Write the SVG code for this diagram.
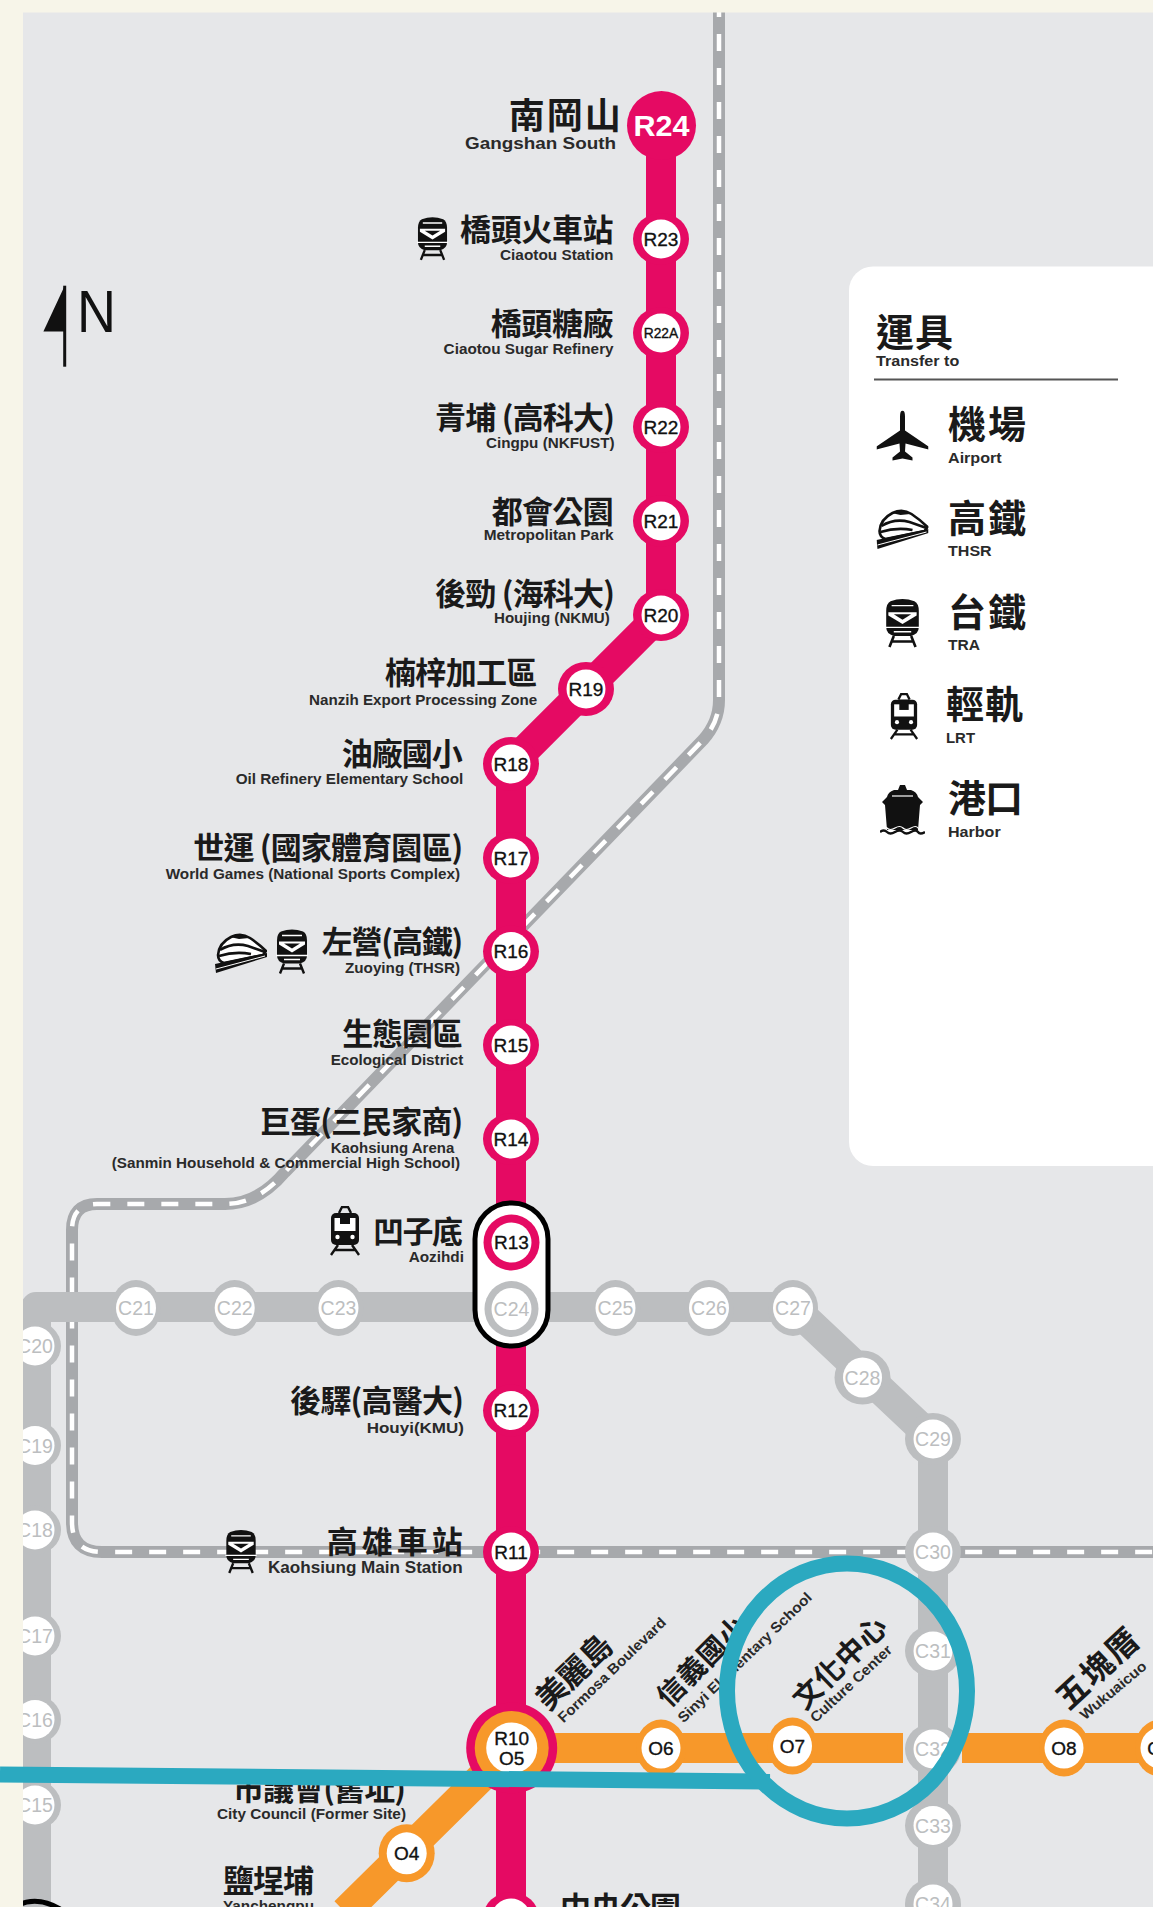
<svg xmlns="http://www.w3.org/2000/svg" width="1153" height="1907" viewBox="0 0 1153 1907">
<style>
.zh{font-family:"Noto Sans CJK TC","Noto Sans CJK SC",sans-serif;font-weight:700;font-size:31px;fill:#1a1a1a}
.en{font-family:"Liberation Sans",Arial,sans-serif;font-weight:700;font-size:14.5px;fill:#2a2a2a}
.rl,.ol{font-family:"Liberation Sans",Arial,sans-serif;font-size:19px;fill:#111;stroke:#111;stroke-width:.35;text-anchor:middle}
.cl{font-family:"Liberation Sans",Arial,sans-serif;font-size:19.5px;fill:#bcbec0;text-anchor:middle}
.ro{fill:#e50a63}.oo{fill:#f7982a}.co{fill:#bcbec0}.w{fill:#fff}
.ic{fill:#111}
</style>
<defs>
<symbol id="i-tra" viewBox="0 0 32 46">
<path class="ic" d="M5 3Q16-1 27 3Q31 5 31 12V27Q31 33 24 35H8Q1 33 1 27V12Q1 5 5 3Z"/>
<path fill="#fff" d="M3 13H29V16L16 24L3 16Z"/><path class="ic" d="M8 15H24L16 20Z"/>
<path d="M6 7H26M0 27H32M8 31H24" stroke="#fff" stroke-width="1.3" fill="none"/>
<path d="M8 35L4 45M24 35L28 45M6 40H26" stroke="#111" stroke-width="2.4" fill="none"/>
</symbol>
<symbol id="i-lrt" viewBox="0 0 32 50">
<rect class="ic" x="2" y="7" width="28" height="32" rx="5"/>
<rect fill="#fff" x="5.5" y="12" width="21" height="13"/><rect class="ic" x="11" y="7" width="10" height="11"/>
<circle fill="#fff" cx="8.5" cy="31" r="2.2"/><circle fill="#fff" cx="23.5" cy="31" r="2.2"/>
<path d="M10 7L13 1H19L22 7M9 39L2 49M23 39L30 49M6 44H26" stroke="#111" stroke-width="2.4" fill="none"/>
</symbol>
<symbol id="i-plane" viewBox="0 0 52 51">
<path class="ic" d="M26 0Q28.5 0 28.5 6V20L52 36V39L29 33L28.5 41L36 47V50L26 48L16 50V47L23.5 41L23 33L0 39V36L23.5 20V6Q23.5 0 26 0Z"/>
</symbol>
<symbol id="i-ship" viewBox="0 0 45 51">
<path class="ic" d="M20 0H25L27 5H31Q37 7 38 12L43 17L40 20L38 45H7L5 20L2 17L7 12Q8 7 14 5H18Z"/>
<path d="M12 11H33" stroke="#fff" stroke-width="1.2" fill="none"/>
<path d="M0 43q4-3 7 0t8 0t8 0t8 0t7 0t7 0" stroke="#fff" stroke-width="1.2" fill="none"/>
<path d="M0 47q4-3 7 0t8 0t8 0t8 0t7 0t7 0" stroke="#111" stroke-width="2.4" fill="none"/>
</symbol>
<symbol id="i-thsr" viewBox="0 0 52 42">
<path fill="#fff" stroke="#111" stroke-width="2.6" d="M3 24Q4 12 16 6Q26 1 35 7Q44 13 51 20L48 24L9 32Q3 30 3 24Z"/>
<path fill="none" stroke="#111" stroke-width="2.6" d="M5 19Q18 11 33 15L50 21M4 25Q20 20 36 23"/>
<path class="ic" d="M15 6Q26 1 34 7L24 8Z"/>
<path class="ic" d="M0 33L52 22V26L1 42Z"/><path d="M1 38L50 25" stroke="#fff" stroke-width="1"/>
</symbol>
</defs>

<rect id="background" width="1153" height="1907" fill="#e6e7e9"/>
<rect id="legend-panel" x="849" y="266.500" width="340" height="899.500" rx="24" fill="#fff"/>

<g id="connectors" fill="none">
<g id="line-tra">
<path id="tra-band" d="M719 0V700Q719 722 703 740L285 1172Q258 1204 225 1204H97Q72 1204 72 1230V1522Q72 1552 102 1552H1153" stroke="#a7a9ac" stroke-width="12"/>
<path d="M719 0V700Q719 722 703 740L285 1172Q258 1204 225 1204H97Q72 1204 72 1230V1522Q72 1552 102 1552H1153" stroke="#fff" stroke-width="4.5" stroke-dasharray="17 17"/>
</g>
<path id="line-c" d="M793 1307L933 1439V1907M36 1907V1307H793" stroke="#bcbec0" stroke-width="30" stroke-linejoin="round"/>
<path id="line-r" d="M661 125V614L511 764V1907" stroke="#e50a63" stroke-width="30" stroke-linejoin="round"/>
<path id="line-o" d="M345 1912L511 1748H903M962 1748H1153" stroke="#f7982a" stroke-width="30"/>
</g>

<g id="north"><path class="ic" d="M64.700 285.700V331.400H43.400Z"/><rect class="ic" x="63.200" y="285.700" width="3" height="81"/><text x="77" y="331.500" font-family="'Liberation Sans',Arial,sans-serif" font-size="60" fill="#111" textLength="39" lengthAdjust="spacingAndGlyphs">N</text></g>

<g id="R24"><circle class="ro" cx="661.500" cy="125.500" r="34.500"/><text x="661.500" y="136" font-family="'Liberation Sans',Arial,sans-serif" font-weight="700" font-size="29" fill="#fff" text-anchor="middle" textLength="56" lengthAdjust="spacingAndGlyphs">R24</text>
<text class="zh" x="508.700" y="129" style="font-size:36px" textLength="112">南岡山</text><text class="en" style="font-size:17px" x="465" y="149" textLength="151" lengthAdjust="spacingAndGlyphs">Gangshan South</text></g>

<g id="R23"><ellipse class="ro" cx="661" cy="239" rx="28" ry="26"/><ellipse class="w" cx="661" cy="239" rx="19.500" ry="19.500"/><text class="rl" x="661" y="245.500">R23</text>
<use href="#i-tra" x="417" y="216" width="31" height="45"/><text class="zh" x="460" y="241" textLength="153.500">橋頭火車站</text><text class="en" x="500" y="259.600" textLength="113.500" lengthAdjust="spacingAndGlyphs">Ciaotou Station</text></g>

<g id="R22A"><ellipse class="ro" cx="661" cy="333" rx="28" ry="26"/><ellipse class="w" cx="661" cy="333" rx="19.500" ry="19.500"/><text class="rl" style="font-size:13.8px" x="661" y="338">R22A</text>
<text class="zh" x="490.800" y="335" textLength="122.700">橋頭糖廠</text><text class="en" x="443.600" y="353.500" textLength="170" lengthAdjust="spacingAndGlyphs">Ciaotou Sugar Refinery</text></g>

<g id="R22"><ellipse class="ro" cx="661" cy="427" rx="28" ry="26"/><ellipse class="w" cx="661" cy="427" rx="19.500" ry="19.500"/><text class="rl" x="661" y="433.500">R22</text>
<text class="zh" x="435" y="429" textLength="180">青埔 (高科大)</text><text class="en" x="486" y="448" textLength="128.500" lengthAdjust="spacingAndGlyphs">Cingpu (NKFUST)</text></g>

<g id="R21"><ellipse class="ro" cx="661" cy="521" rx="28" ry="26"/><ellipse class="w" cx="661" cy="521" rx="19.500" ry="19.500"/><text class="rl" x="661" y="527.500">R21</text>
<text class="zh" x="491.700" y="523" textLength="122">都會公園</text><text class="en" x="483.700" y="540" textLength="130" lengthAdjust="spacingAndGlyphs">Metropolitan Park</text></g>

<g id="R20"><ellipse class="ro" cx="661" cy="615" rx="28" ry="26"/><ellipse class="w" cx="661" cy="615" rx="19.500" ry="19.500"/><text class="rl" x="661" y="621.500">R20</text>
<text class="zh" x="435" y="605" textLength="180">後勁 (海科大)</text><text class="en" x="494" y="623" textLength="115.700" lengthAdjust="spacingAndGlyphs">Houjing (NKMU)</text></g>

<g id="R19"><ellipse class="ro" cx="586" cy="689" rx="28" ry="27"/><ellipse class="w" cx="586" cy="689" rx="19.500" ry="19.500"/><text class="rl" x="586" y="695.500">R19</text>
<text class="zh" x="385" y="684" textLength="152.300">楠梓加工區</text><text class="en" x="309" y="704.600" textLength="228.300" lengthAdjust="spacingAndGlyphs">Nanzih Export Processing Zone</text></g>

<g id="R18"><ellipse class="ro" cx="511" cy="764" rx="28" ry="27"/><ellipse class="w" cx="511" cy="764" rx="19.500" ry="19.500"/><text class="rl" x="511" y="770.500">R18</text>
<text class="zh" x="341.700" y="765" textLength="121">油廠國小</text><text class="en" x="235.700" y="784" textLength="227.600" lengthAdjust="spacingAndGlyphs">Oil Refinery Elementary School</text></g>

<g id="R17"><ellipse class="ro" cx="511" cy="858" rx="28" ry="26"/><ellipse class="w" cx="511" cy="858" rx="19.500" ry="19.500"/><text class="rl" x="511" y="864.500">R17</text>
<text class="zh" x="193.300" y="859" textLength="270">世運 (國家體育園區)</text><text class="en" x="165.700" y="878.600" textLength="294.300" lengthAdjust="spacingAndGlyphs">World Games (National Sports Complex)</text></g>

<g id="R16"><ellipse class="ro" cx="511" cy="951.500" rx="28" ry="26"/><ellipse class="w" cx="511" cy="951.500" rx="19.500" ry="19.500"/><text class="rl" x="511" y="958">R16</text>
<use href="#i-thsr" x="215" y="931" width="52" height="42"/><use href="#i-tra" x="276" y="928.500" width="32" height="46"/><text class="zh" x="321.700" y="953" textLength="141.600">左營(高鐵)</text><text class="en" x="345" y="973" textLength="115" lengthAdjust="spacingAndGlyphs">Zuoying (THSR)</text></g>

<g id="R15"><ellipse class="ro" cx="511" cy="1045" rx="28" ry="26"/><ellipse class="w" cx="511" cy="1045" rx="19.500" ry="19.500"/><text class="rl" x="511" y="1051.500">R15</text>
<text class="zh" x="342.300" y="1045" textLength="120.400">生態園區</text><text class="en" x="330.700" y="1065" textLength="132.600" lengthAdjust="spacingAndGlyphs">Ecological District</text></g>

<g id="R14"><ellipse class="ro" cx="511" cy="1139" rx="28" ry="26"/><ellipse class="w" cx="511" cy="1139" rx="19.500" ry="19.500"/><text class="rl" x="511" y="1145.500">R14</text>
<text class="zh" x="260" y="1133" textLength="203.300">巨蛋(三民家商)</text><text class="en" x="330.700" y="1152.500" textLength="123.600" lengthAdjust="spacingAndGlyphs">Kaohsiung Arena</text><text class="en" x="111.700" y="1167.500" textLength="348.300" lengthAdjust="spacingAndGlyphs">(Sanmin Household &amp; Commercial High School)</text></g>

<g id="C-horizontal">
<g id="C21"><ellipse class="co" cx="136" cy="1308" rx="25" ry="28"/><ellipse class="w" cx="136" cy="1308" rx="20" ry="21"/><text class="cl" x="136" y="1315">C21</text></g>
<g id="C22"><ellipse class="co" cx="234.700" cy="1308" rx="25" ry="28"/><ellipse class="w" cx="234.700" cy="1308" rx="20" ry="21"/><text class="cl" x="234.700" y="1315">C22</text></g>
<g id="C23"><ellipse class="co" cx="338.500" cy="1308" rx="25" ry="28"/><ellipse class="w" cx="338.500" cy="1308" rx="20" ry="21"/><text class="cl" x="338.500" y="1315">C23</text></g>
<g id="C25"><ellipse class="co" cx="615.500" cy="1308" rx="25" ry="28"/><ellipse class="w" cx="615.500" cy="1308" rx="20" ry="21"/><text class="cl" x="615.500" y="1315">C25</text></g>
<g id="C26"><ellipse class="co" cx="709" cy="1308" rx="25" ry="28"/><ellipse class="w" cx="709" cy="1308" rx="20" ry="21"/><text class="cl" x="709" y="1315">C26</text></g>
<g id="C27"><ellipse class="co" cx="793" cy="1308" rx="25" ry="28"/><ellipse class="w" cx="793" cy="1308" rx="20" ry="21"/><text class="cl" x="793" y="1315">C27</text></g>
<g id="C28"><ellipse class="co" cx="862.500" cy="1377.500" rx="28" ry="27"/><ellipse class="w" cx="862.500" cy="1377.500" rx="19.500" ry="20"/><text class="cl" x="862.500" y="1384.500">C28</text></g>
</g>
<g id="C-east">
<g id="C29"><ellipse class="co" cx="933" cy="1439" rx="28" ry="26"/><ellipse class="w" cx="933" cy="1439" rx="19.500" ry="19.500"/><text class="cl" x="933" y="1446">C29</text></g>
<g id="C30"><ellipse class="co" cx="933" cy="1552" rx="28" ry="26"/><ellipse class="w" cx="933" cy="1552" rx="19.500" ry="19.500"/><text class="cl" x="933" y="1559">C30</text></g>
<g id="C31"><ellipse class="co" cx="933" cy="1651" rx="28" ry="26"/><ellipse class="w" cx="933" cy="1651" rx="19.500" ry="19.500"/><text class="cl" x="933" y="1658">C31</text></g>
<g id="C32"><ellipse class="co" cx="933" cy="1749" rx="28" ry="26"/><ellipse class="w" cx="933" cy="1749" rx="19.500" ry="19.500"/><text class="cl" x="933" y="1756">C32</text></g>
<g id="C33"><ellipse class="co" cx="933" cy="1825.500" rx="28" ry="26"/><ellipse class="w" cx="933" cy="1825.500" rx="19.500" ry="19.500"/><text class="cl" x="933" y="1832.500">C33</text></g>
<g id="C34"><ellipse class="co" cx="933" cy="1904" rx="28" ry="26"/><ellipse class="w" cx="933" cy="1904" rx="19.500" ry="19.500"/><text class="cl" x="933" y="1911">C34</text></g>
</g>
<g id="C-west">
<g id="C20"><ellipse class="co" cx="35" cy="1346" rx="26" ry="24.500"/><ellipse class="w" cx="35" cy="1346" rx="19.500" ry="19.500"/><text class="cl" x="35" y="1353">C20</text></g>
<g id="C19"><ellipse class="co" cx="35" cy="1445.500" rx="26" ry="24.500"/><ellipse class="w" cx="35" cy="1445.500" rx="19.500" ry="19.500"/><text class="cl" x="35" y="1452.500">C19</text></g>
<g id="C18"><ellipse class="co" cx="35" cy="1530" rx="26" ry="24.500"/><ellipse class="w" cx="35" cy="1530" rx="19.500" ry="19.500"/><text class="cl" x="35" y="1537">C18</text></g>
<g id="C17"><ellipse class="co" cx="35" cy="1636" rx="26" ry="24.500"/><ellipse class="w" cx="35" cy="1636" rx="19.500" ry="19.500"/><text class="cl" x="35" y="1643">C17</text></g>
<g id="C16"><ellipse class="co" cx="35" cy="1719.500" rx="26" ry="24.500"/><ellipse class="w" cx="35" cy="1719.500" rx="19.500" ry="19.500"/><text class="cl" x="35" y="1726.500">C16</text></g>
<g id="C15"><ellipse class="co" cx="35" cy="1805" rx="26" ry="24.500"/><ellipse class="w" cx="35" cy="1805" rx="19.500" ry="19.500"/><text class="cl" x="35" y="1812">C15</text></g>
</g>
<path id="C14-capsule-top" d="M18 1905Q38 1896 60 1909" fill="none" stroke="#000" stroke-width="5"/>

<g id="R13-C24">
<rect x="475" y="1203" width="73" height="143" rx="36" fill="#fff" stroke="#000" stroke-width="5"/>
<ellipse class="ro" cx="511.500" cy="1242.500" rx="28" ry="28"/><ellipse class="w" cx="511.500" cy="1242.500" rx="20" ry="20"/><text class="rl" x="511.500" y="1249">R13</text>
<ellipse class="co" cx="511.500" cy="1309" rx="27" ry="28"/><ellipse class="w" cx="511.500" cy="1309" rx="20" ry="21"/><text class="cl" x="511.500" y="1316">C24</text>
<use href="#i-lrt" x="329" y="1206" width="32" height="50"/><text class="zh" x="373" y="1242.500" textLength="90">凹子底</text><text class="en" x="408.700" y="1262" textLength="55.300" lengthAdjust="spacingAndGlyphs">Aozihdi</text>
</g>

<g id="R12"><ellipse class="ro" cx="511" cy="1410.500" rx="28" ry="26"/><ellipse class="w" cx="511" cy="1410.500" rx="19.500" ry="19.500"/><text class="rl" x="511" y="1417">R12</text>
<text class="zh" x="290" y="1412" textLength="174">後驛(高醫大)</text><text class="en" x="366.700" y="1432.500" textLength="97.300" lengthAdjust="spacingAndGlyphs">Houyi(KMU)</text></g>

<g id="R11"><ellipse class="ro" cx="511" cy="1552" rx="28" ry="26"/><ellipse class="w" cx="511" cy="1552" rx="19.500" ry="19.500"/><text class="rl" x="511" y="1558.500">R11</text>
<use href="#i-tra" x="225" y="1529" width="32" height="45"/><text class="zh" x="326.700" y="1553" textLength="136">高雄車站</text><text class="en" style="font-size:16px" x="268" y="1572.800" textLength="194.700" lengthAdjust="spacingAndGlyphs">Kaohsiung Main Station</text></g>

<g id="R10-O5"><circle class="ro" cx="511.700" cy="1748" r="45.500"/><circle class="oo" cx="511.700" cy="1748" r="37"/><circle class="w" cx="511.700" cy="1748" r="25.500"/><text class="rl" x="511.700" y="1744.500">R10</text><text class="rl" x="511.700" y="1764.500">O5</text>
<text class="zh" transform="translate(574,1672) rotate(-44)" x="-46" y="11" textLength="92">美麗島</text><text class="en" transform="translate(560,1720) rotate(-44)" y="5" textLength="144" lengthAdjust="spacingAndGlyphs">Formosa Boulevard</text></g>

<g id="O4"><ellipse class="oo" cx="406.700" cy="1853.300" rx="28" ry="29"/><ellipse class="w" cx="406.700" cy="1853.300" rx="20" ry="21"/><text class="ol" x="406.700" y="1860">O4</text>
<text class="zh" x="233" y="1800" textLength="173">市議會(舊址)</text><text class="en" x="217" y="1819" textLength="189" lengthAdjust="spacingAndGlyphs">City Council (Former Site)</text>
<text class="zh" x="223" y="1892" textLength="91">鹽埕埔</text><text class="en" x="223" y="1911" textLength="91" lengthAdjust="spacingAndGlyphs">Yanchengpu</text></g>

<g id="O6"><ellipse class="oo" cx="661" cy="1748" rx="25" ry="28.500"/><ellipse class="w" cx="661" cy="1748" rx="19.500" ry="20.500"/><text class="ol" x="661" y="1754.500">O6</text>
<text class="zh" transform="translate(702,1661) rotate(-45)" x="-57" y="10" style="font-size:28px" textLength="114">信義國小</text><text class="en" transform="translate(680,1720) rotate(-44)" y="5" textLength="180" lengthAdjust="spacingAndGlyphs">Sinyi Elementary School</text></g>

<g id="O7"><ellipse class="oo" cx="792.500" cy="1746" rx="25" ry="28.500"/><ellipse class="w" cx="792.500" cy="1746" rx="19.500" ry="20.500"/><text class="ol" x="792.500" y="1752.500">O7</text>
<text class="zh" transform="translate(840,1663) rotate(-44)" x="-59" y="10" style="font-size:29px" textLength="118">文化中心</text><text class="en" transform="translate(812.400,1719.600) rotate(-43)" y="5" textLength="105.500" lengthAdjust="spacingAndGlyphs">Culture Center</text></g>

<g id="O8"><ellipse class="oo" cx="1064" cy="1748" rx="25" ry="28.500"/><ellipse class="w" cx="1064" cy="1748" rx="19.500" ry="20.500"/><text class="ol" x="1064" y="1754.500">O8</text>
<text class="zh" transform="translate(1097.500,1669) rotate(-43)" x="-50" y="11" style="font-size:32px" textLength="100">五塊厝</text><text class="en" transform="translate(1081.700,1716.700) rotate(-40)" y="5" textLength="82" lengthAdjust="spacingAndGlyphs">Wukuaicuo</text></g>

<g id="O9"><ellipse class="oo" cx="1160" cy="1748" rx="25" ry="28.500"/><ellipse class="w" cx="1160" cy="1748" rx="19.500" ry="20.500"/><text class="ol" x="1160" y="1754.500">O9</text></g>

<g id="R9"><ellipse class="ro" cx="511" cy="1918" rx="28" ry="26"/><ellipse class="w" cx="511" cy="1918" rx="19.500" ry="19.500"/>
<text class="zh" x="560" y="1919" textLength="121">中央公園</text></g>

<g id="legend">
<text class="zh" style="font-size:38px" x="876" y="346" textLength="77">運具</text><text class="en" x="876" y="365.700" textLength="83.300" lengthAdjust="spacingAndGlyphs">Transfer to</text>
<rect x="874" y="378.500" width="244" height="2" fill="#555"/>
<g id="legend-airport"><use href="#i-plane" x="876.500" y="410.500" width="52" height="51"/><text class="zh" style="font-size:38px" x="948" y="438" textLength="78">機場</text><text class="en" x="948" y="463" textLength="53.700" lengthAdjust="spacingAndGlyphs">Airport</text></g>
<g id="legend-thsr"><use href="#i-thsr" x="876.500" y="507" width="52" height="42"/><text class="zh" style="font-size:38px" x="948" y="532" textLength="78">高鐵</text><text class="en" x="948" y="556" textLength="43.700" lengthAdjust="spacingAndGlyphs">THSR</text></g>
<g id="legend-tra"><use href="#i-tra" x="883" y="598" width="39" height="50"/><text class="zh" style="font-size:38px" x="948" y="626" textLength="78">台鐵</text><text class="en" x="948" y="650" textLength="32" lengthAdjust="spacingAndGlyphs">TRA</text></g>
<g id="legend-lrt"><use href="#i-lrt" x="889" y="693" width="30" height="47"/><text class="zh" style="font-size:38px" x="946" y="718" textLength="77">輕軌</text><text class="en" x="946" y="743" textLength="29" lengthAdjust="spacingAndGlyphs">LRT</text></g>
<g id="legend-harbor"><use href="#i-ship" x="880" y="785" width="45" height="51"/><text class="zh" style="font-size:38px" x="948" y="812" textLength="75">港口</text><text class="en" x="948" y="837" textLength="52.700" lengthAdjust="spacingAndGlyphs">Harbor</text></g>
</g>

<path id="frame" fill="#f7f5e9" d="M0 0H1153V12.500H23V1907H0Z"/>
<g id="highlight" fill="none" stroke="#2ba9c0" stroke-width="16"><line x1="0" y1="1774.500" x2="770" y2="1781.500"/><ellipse cx="847" cy="1691" rx="120" ry="127.500"/></g>
</svg>
